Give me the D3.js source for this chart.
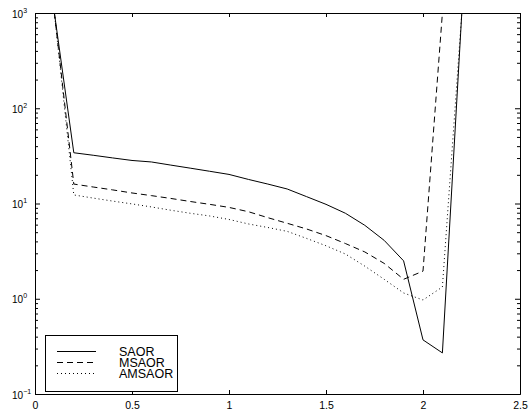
<!DOCTYPE html>
<html>
<head>
	<meta charset="UTF-8" />
	<title>SAOR / MSAOR / AMSAOR iterations</title>
	<script src="https://d3js.org/d3.v7.min.js"></script>
	<style>
		body { margin: 0; background: #fff; }
		text { font-family: "Liberation Sans", Arial, sans-serif; fill: #000; }
	</style>
</head>
<body>
	<svg id="chart" width="529" height="413"></svg>

	<script type="text/javascript">
	// relaxation parameter (x) and iteration counts (log y)
	var omega  = [0.1,0.2,0.3,0.4,0.5,0.6,0.7,0.8,0.9,1.0,1.1,1.2,1.3,1.4,1.5,1.6,1.7,1.8,1.9,2.0,2.1,2.2]
	var saor   = [1000,34.1,32.1,30.1,28.3,27.3,25.3,23.5,21.8,20.2,17.9,16.0,14.2,11.8,9.8,7.9,5.9,4.1,2.5,0.37,0.27,1000]
	var msaor  = [1000,16.0,14.9,13.9,12.9,12.1,11.3,10.5,9.8,9.1,8.2,7.1,6.2,5.4,4.6,3.8,3.1,2.35,1.6,1.95,1000]
	var amsaor = [1000,12.3,11.4,10.6,9.9,9.2,8.5,7.9,7.4,6.8,6.1,5.6,5.1,4.3,3.6,2.95,2.2,1.6,1.15,0.97,1.33,1000]

	var xTicks = [0, 0.5, 1, 1.5, 2, 2.5]
	var xTickLabels = ["0", "0.5", "1", "1.5", "2", "2.5"]
	var yTicks = [0.1, 1, 10, 100, 1000]
	var yExponents = ["\u22121", "0", "1", "2", "3"]
	var seriesNames = ["SAOR", "MSAOR", "AMSAOR"]
	var dashes = ["none", "6,4", "1,3"]

	// plot box (window.top is reserved, so own names)
	var pLeft = 35, pRight = 520, pTop = 13, pBottom = 394

	var svg = d3.select("#chart")
	var x = d3.scaleLinear().domain([0, 2.5]).range([pLeft, pRight])
	var y = d3.scaleLog().domain([0.1, 1000]).range([pBottom, pTop])

	// minor ticks for the log axis
	var minor = []
	yTicks.slice(0, -1).forEach(function(d){
		for (var k = 2; k <= 9; k++) minor.push(d*k)
	})

	// box axes, ticks pointing inwards like matlab
	svg.append("g").attr("transform", `translate(0,${pBottom})`)
		.call(d3.axisBottom(x).tickValues(xTicks).tickSizeInner(-4).tickSizeOuter(0)
			.tickPadding(8).tickFormat((d,i)=>xTickLabels[i]))
	svg.append("g").attr("transform", `translate(0,${pTop})`)
		.call(d3.axisTop(x).tickValues(xTicks).tickSizeInner(-4).tickSizeOuter(0).tickFormat(""))
	svg.append("g").attr("transform", `translate(${pLeft},0)`)
		.call(d3.axisLeft(y).tickValues(yTicks).tickSizeInner(-5).tickSizeOuter(0).tickFormat(""))
	svg.append("g").attr("transform", `translate(${pLeft},0)`)
		.call(d3.axisLeft(y).tickValues(minor).tickSizeInner(-3).tickSizeOuter(0).tickFormat(""))
	svg.append("g").attr("transform", `translate(${pRight},0)`)
		.call(d3.axisRight(y).tickValues(yTicks).tickSizeInner(-5).tickSizeOuter(0).tickFormat(""))
	svg.append("g").attr("transform", `translate(${pRight},0)`)
		.call(d3.axisRight(y).tickValues(minor).tickSizeInner(-3).tickSizeOuter(0).tickFormat(""))

	svg.selectAll(".domain").attr("stroke", "#000")
	svg.selectAll(".tick line").attr("stroke", "#000")
	svg.selectAll(".tick text").attr("font-size", "10.5px").attr("font-family", null)

	// y labels 10^n
	var ylab = svg.append("g").selectAll("text")
		.data(yTicks)
		.enter()
		.append("text")
		.attr("x", 12)
		.attr("y", d=>y(d)+4.5)
	ylab.append("tspan").attr("font-size", "10px").text("10")
	ylab.append("tspan").attr("font-size", "7px").attr("dy", -5).text((d,i)=>yExponents[i])

	// clip + curves
	svg.append("clipPath").attr("id", "plotclip")
		.append("rect").attr("x", pLeft).attr("y", pTop).attr("width", pRight-pLeft).attr("height", pBottom-pTop)

	var line = d3.line().x(d=>x(d[0])).y(d=>y(d[1]))
	var series = [saor, msaor, amsaor].map(s=>s.map((v,i)=>[omega[i], v]))

	svg.append("g").attr("clip-path", "url(#plotclip)")
		.selectAll("path")
		.data(series)
		.enter()
		.append("path")
		.attr("fill", "none")
		.attr("stroke", "#000")
		.attr("stroke-width", 1)
		.attr("stroke-dasharray", (d,i)=>dashes[i])
		.attr("d", line)

	// legend
	var lg = svg.append("g")
	lg.append("rect").attr("x", 45.5).attr("y", 335.5).attr("width", 132).attr("height", 56)
		.attr("fill", "#fff").attr("stroke", "#000")
	var rows = lg.selectAll("g.row")
		.data(seriesNames)
		.enter()
		.append("g")
		.attr("class", "row")
		.attr("transform", (d,i)=>`translate(0,${351 + i*11})`)
	rows.append("line")
		.attr("x1", 57).attr("x2", 96).attr("y1", 0.5).attr("y2", 0.5)
		.attr("stroke", "#000")
		.attr("stroke-dasharray", (d,i)=>dashes[i])
	rows.append("text")
		.attr("x", 119).attr("y", 4.6)
		.attr("font-size", "12.5px")
		.text(d=>d)
	</script>
</body>
</html>
